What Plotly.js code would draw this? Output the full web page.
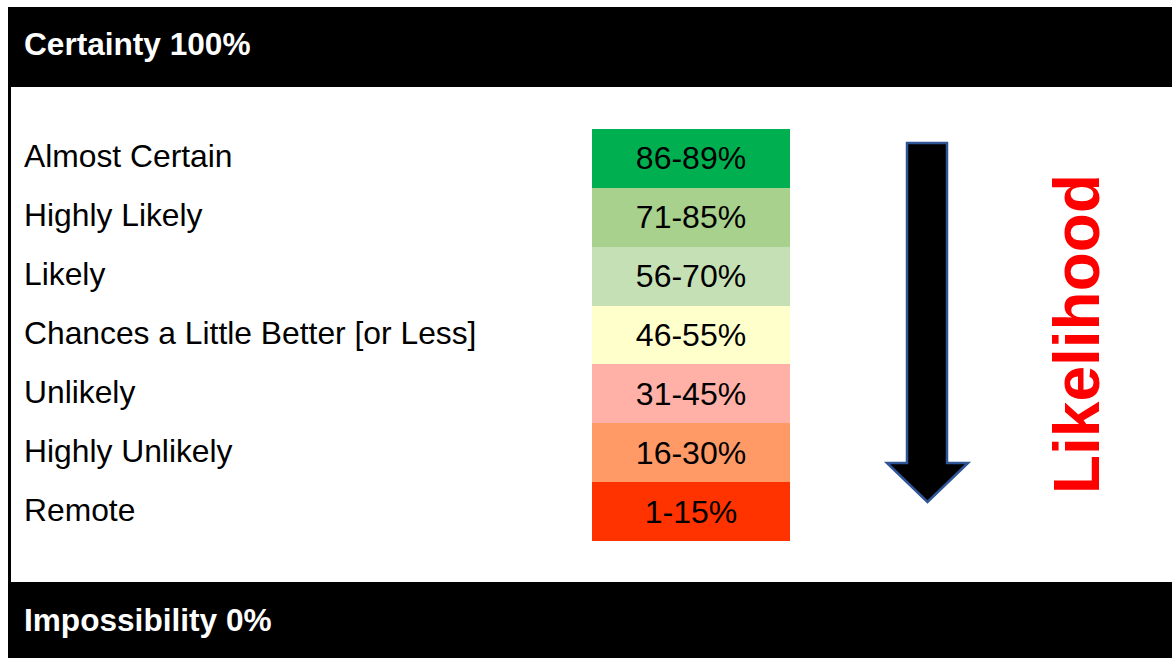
<!DOCTYPE html>
<html>
<head>
<meta charset="utf-8">
<script src="https://cdn.plot.ly/plotly-3.0.1.min.js"></script>
<style>html,body{margin:0;padding:0;background:#fff;}#chart{width:1172px;height:658px;}</style>
</head>
<body>
<div id="chart"></div>
<script>
// ---- data ----
const categories = ["Almost Certain", "Highly Likely", "Likely", "Chances a Little Better [or Less]", "Unlikely", "Highly Unlikely", "Remote"];
const ranges = ["86-89%", "71-85%", "56-70%", "46-55%", "31-45%", "16-30%", "1-15%"];
const cellColors = ["#00B050", "#A9D18E", "#C5E0B4", "#FFFFCC", "#FFB1A8", "#FF9966", "#FF3300"];
const topLabel = "Certainty 100%";
const bottomLabel = "Impossibility 0%";
const sideLabel = "Likelihood";

// ---- layout helpers ----
const W = 1172, H = 658;
const px = x => x / W;
const py = y => 1 - y / H;
const FONT = "Liberation Sans, Arial, sans-serif";

const trace = {
  type: "bar",
  orientation: "h",
  y: categories,
  x: categories.map(() => 1),
  width: 1,
  marker: { color: cellColors, line: { width: 0 } },
  text: ranges,
  textposition: "inside",
  insidetextanchor: "middle",
  constraintext: "none",
  textfont: { family: FONT, size: 32, color: "#000000" },
  hoverinfo: "skip"
};

const arrowPath = [
  [907, 143], [947, 143], [947, 463], [968, 463], [927.5, 502], [887, 463], [907, 463]
].map((p, i) => (i === 0 ? "M" : "L") + px(p[0]) + "," + py(p[1])).join(" ") + " Z";

const shapes = [
  { type: "rect", xref: "paper", yref: "paper", x0: px(8), x1: px(W), y0: py(87), y1: py(7), fillcolor: "#000", line: { width: 0 }, layer: "below" },
  { type: "rect", xref: "paper", yref: "paper", x0: px(8), x1: px(W), y0: py(H), y1: py(582), fillcolor: "#000", line: { width: 0 }, layer: "below" },
  { type: "rect", xref: "paper", yref: "paper", x0: px(8), x1: px(11), y0: py(582), y1: py(87), fillcolor: "#000", line: { width: 0 }, layer: "below" },
  { type: "path", xref: "paper", yref: "paper", path: arrowPath, fillcolor: "#000000", line: { color: "#2F5597", width: 2.5 } }
];

const annotations = categories.map(c => ({
  xref: "paper", yref: "y", x: px(22), y: c, xanchor: "left", yanchor: "middle", yshift: 2,
  text: c, showarrow: false, font: { family: FONT, size: 31.8, color: "#000" }
}));
annotations.push(
  { xref: "paper", yref: "paper", x: px(22), y: py(44), xanchor: "left", yanchor: "middle",
    text: "<b>" + topLabel + "</b>", showarrow: false, font: { family: FONT, size: 31.6, color: "#fff" } },
  { xref: "paper", yref: "paper", x: px(22), y: py(619.5), xanchor: "left", yanchor: "middle",
    text: "<b>" + bottomLabel + "</b>", showarrow: false, font: { family: FONT, size: 31.6, color: "#fff" } },
  { xref: "paper", yref: "paper", x: px(1077), y: py(334), xanchor: "center", yanchor: "middle", textangle: -90,
    text: "<b>" + sideLabel + "</b>", showarrow: false, font: { family: FONT, size: 64, color: "#FF0000" } }
);

const layout = {
  width: W, height: H,
  margin: { l: 0, r: 0, t: 0, b: 0, pad: 0 },
  paper_bgcolor: "#ffffff",
  plot_bgcolor: "rgba(0,0,0,0)",
  showlegend: false,
  bargap: 0,
  xaxis: { domain: [px(592), px(790)], range: [0, 1], visible: false, fixedrange: true },
  yaxis: { domain: [py(541), py(129)], type: "category", categoryorder: "array", categoryarray: categories,
           range: [categories.length - 0.5, -0.5], visible: false, fixedrange: true },
  shapes: shapes,
  annotations: annotations
};

Plotly.newPlot("chart", [trace], layout, { displayModeBar: false, staticPlot: true });
</script>
</body>
</html>
